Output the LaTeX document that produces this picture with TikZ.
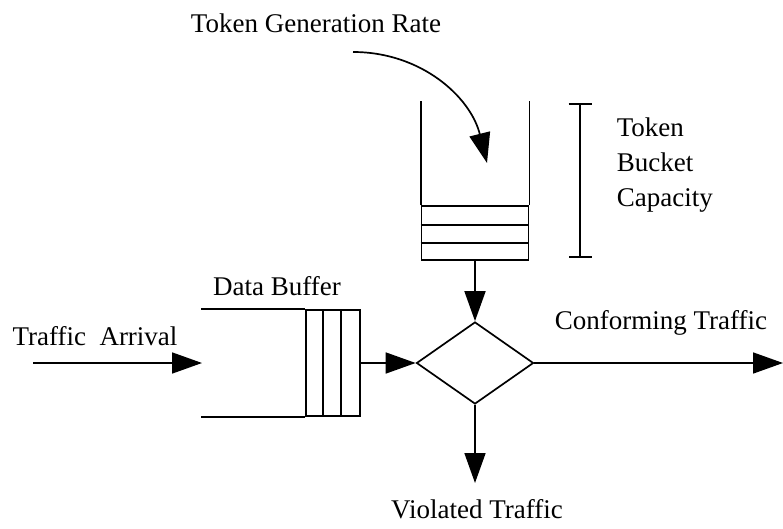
\documentclass[tikz,border=0pt]{standalone}
\usepackage{fontspec}
\setmainfont{Liberation Serif}
\usetikzlibrary{arrows.meta,shapes.geometric,positioning}

\begin{document}
\begin{tikzpicture}[x=1pt,y=1pt,line width=1.7pt,
    >={Triangle[length=30pt,width=21pt]},
    lbl/.style={font=\fontsize{27}{35}\selectfont,inner sep=0pt,anchor=base},
    slots/.style={draw,inner sep=0pt}]
  \useasboundingbox (0,0) rectangle (783,528);

  % token bucket: walls and three tokens
  \node[slots,minimum width=107pt,minimum height=54pt] (tokens) at (475,295) {};
  \draw (tokens.north west) -- ++(0,104);
  \draw (tokens.north east) -- ++(0,104);
  \foreach \k in {18,36}
    \draw ([yshift=\k pt]tokens.south west) -- ([yshift=\k pt]tokens.south east);

  % policer
  \node[diamond,draw,inner sep=0pt,minimum width=117pt,minimum height=82pt] (police) at (475,165) {};

  % data buffer with three queued packets
  \node[slots,minimum width=54pt,minimum height=106pt] (buffer) at (333,165) {};
  \foreach \k in {18,36}
    \draw ([xshift=\k pt]buffer.south west) -- ([xshift=\k pt]buffer.north west);
  \draw (buffer.north west) -- ++(-104,0);
  \draw (buffer.south west) -- ++(-104,0);

  \coordinate (src)    at (33,165);
  \coordinate (inlet)  at (202,165);
  \coordinate (conf)   at (783,165);
  \coordinate (viol)   at (475,45);
  \coordinate (rate)   at (353,476);
  \coordinate (fill)   at (487,365);
  \coordinate (captop) at (580,425);
  \coordinate (capbot) at (580,270);

  \draw[->] (src) -- (inlet);
  \draw[->] (buffer) -- (police);
  \draw[->] (tokens.south) -- (police.north);
  \draw[->] (police) -- (conf);
  \draw[->] (police) -- (viol);
  \draw[->] (rate) to[out=0,in=104] (fill);
  \draw[{Bar[width=23pt]}-{Bar[width=23pt]}] (captop) -- (capbot);

  % labels
  \node[lbl] (ratelbl) at (316,495) {Token Generation Rate};
  \node[lbl] (arrlbl)  at (95,183)  {Traffic\ \ Arrival};
  \node[lbl] (buflbl)  at (277,233) {Data Buffer};
  \node[lbl] (conflbl) at (661,199) {Conforming Traffic};
  \node[lbl] (viollbl) at (477,10)  {Violated Traffic};
  \node[lbl,anchor=base west,align=left] (caplbl) at (616,321) {Token\\Bucket\\Capacity};
\end{tikzpicture}
\end{document}
